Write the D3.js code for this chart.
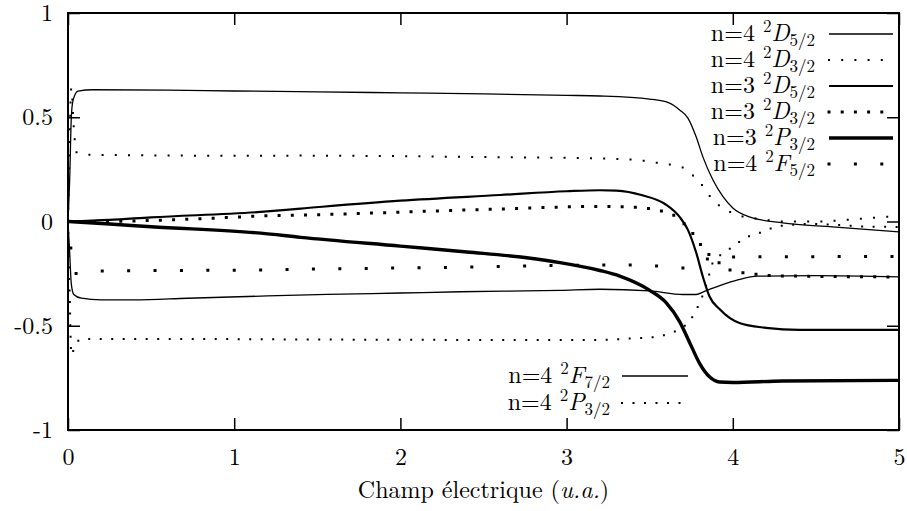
<!DOCTYPE html>
<html><head><meta charset="utf-8">
<script src="https://cdn.jsdelivr.net/npm/d3@7/dist/d3.min.js"></script>
<style>body{margin:0;background:#fff;}</style></head>
<body><svg id="c" width="907" height="511"></svg>
<script>
// ---- data ----
const xTicks = [0,1,2,3,4,5];
const yTicks = [-1,-0.5,0,0.5,1];
const yTickLabels = ["-1","-0.5","0","0.5","1"];
const xTitle = "Champ électrique";

const n4D52 = [[0,0],[0.01,0.2],[0.02,0.5],[0.03,0.58],[0.06,0.625],[0.15,0.632],[0.6,0.63],[1.0,0.626],[1.5,0.622],[2.0,0.617],[2.5,0.612],[3.0,0.605],[3.2,0.602],[3.5,0.587],[3.62,0.568],[3.68,0.535],[3.73,0.496],[3.78,0.405],[3.82,0.31],[3.88,0.2],[3.94,0.12],[4.0,0.065],[4.1,0.022],[4.3,-0.007],[4.6,-0.026],[5.0,-0.05]];
const n4D32 = [[0,0],[0.01,0.4],[0.02,0.64],[0.035,0.45],[0.05,0.333],[0.13,0.32],[1.16,0.315],[1.4,0.316],[2.4,0.31],[3.32,0.3],[3.56,0.28],[3.71,0.256],[3.77,0.213],[3.83,0.16],[3.87,0.113],[3.93,0.07],[4.0,0.04],[4.08,0.02],[4.16,0.012],[4.3,0.0],[4.49,0.0],[4.8,0.015],[5,0.027]];
const n3D52 = [[0,0],[0.25,0.008],[0.5,0.02],[1.16,0.046],[1.4,0.062],[2.0,0.1],[2.6,0.127],[3.0,0.145],[3.2,0.15],[3.3,0.148],[3.45,0.127],[3.6,0.08],[3.68,0.022],[3.73,-0.04],[3.78,-0.15],[3.82,-0.265],[3.86,-0.36],[3.92,-0.42],[4.04,-0.487],[4.2,-0.51],[4.4,-0.52],[5,-0.52]];
const n3D32 = [[0,0],[0.25,0.0],[0.41,0.003],[0.9,0.017],[1.14,0.026],[1.44,0.031],[2.0,0.045],[2.6,0.06],[3.2,0.072],[3.36,0.07],[3.51,0.06],[3.59,0.046],[3.67,0.017],[3.72,-0.022],[3.78,-0.079],[3.82,-0.127],[3.88,-0.175],[3.92,-0.2],[3.95,-0.22],[4.0,-0.237],[4.08,-0.247],[4.24,-0.26],[5,-0.266]];
const n3P32 = [[0,0],[0.25,-0.012],[0.5,-0.025],[1.16,-0.056],[1.4,-0.076],[2.0,-0.118],[2.4,-0.146],[2.76,-0.174],[2.96,-0.197],[3.2,-0.235],[3.32,-0.262],[3.5,-0.33],[3.6,-0.39],[3.68,-0.48],[3.74,-0.58],[3.8,-0.68],[3.86,-0.745],[3.92,-0.77],[4.0,-0.772],[4.3,-0.765],[5,-0.762]];
const n4F52 = [[0,0],[0.03,-0.2],[0.05,-0.25],[0.2,-0.237],[1.2,-0.232],[1.5,-0.228],[2.3,-0.22],[3.0,-0.21],[3.3,-0.208],[3.5,-0.212],[3.72,-0.223],[3.87,-0.175],[4.0,-0.17],[5,-0.168]];
const n4F72 = [[0,0],[0.01,-0.15],[0.02,-0.3],[0.035,-0.35],[0.08,-0.368],[0.2,-0.376],[0.4,-0.376],[0.72,-0.368],[1.2,-0.357],[1.56,-0.35],[2.0,-0.343],[2.36,-0.337],[2.96,-0.33],[3.2,-0.325],[3.5,-0.333],[3.7,-0.35],[3.78,-0.35],[3.83,-0.335],[3.93,-0.305],[4.03,-0.28],[4.15,-0.262],[4.5,-0.26],[5,-0.266]];
const n4P32 = [[0,0],[0.01,-0.35],[0.02,-0.64],[0.04,-0.6],[0.08,-0.563],[0.5,-0.563],[1.5,-0.566],[2.5,-0.568],[3.2,-0.568],[3.32,-0.564],[3.44,-0.559],[3.53,-0.554],[3.61,-0.54],[3.68,-0.516],[3.74,-0.477],[3.78,-0.424],[3.815,-0.362],[3.85,-0.28],[3.875,-0.204],[3.965,-0.141],[4.03,-0.103],[4.1,-0.07],[4.18,-0.05],[4.24,-0.03],[4.33,-0.017],[4.48,-0.012],[4.8,-0.024],[5,-0.026]];

const seriesNames = [
  {n:"4", L:"D", j:"5/2"},{n:"4", L:"D", j:"3/2"},{n:"3", L:"D", j:"5/2"},
  {n:"3", L:"D", j:"3/2"},{n:"3", L:"P", j:"3/2"},{n:"4", L:"F", j:"5/2"},
  {n:"4", L:"F", j:"7/2"},{n:"4", L:"P", j:"3/2"}];
const seriesData = [n4D52,n4D32,n3D52,n3D32,n3P32,n4F52,n4F72,n4P32];

// ---- styles ----
const styles = [
  {w:1.3, dash:null},
  {w:2, dash:"0 13.2"},
  {w:2.2, dash:null},
  {w:3, dash:"0 13.2"},
  {w:3.4, dash:null},
  {w:3, dash:"0 26.4"},
  {w:1.3, dash:null},
  {w:2, dash:"0 11.5"}
];

const FONT = '"Latin Modern Roman", "Liberation Serif", serif';
const svg = d3.select("#c");
const L=68, R=899, T=13, B=430;
const x = d3.scaleLinear().domain([0,5]).range([L,R]);
const y = d3.scaleLinear().domain([-1,1]).range([B,T]);

svg.append("defs").append("clipPath").attr("id","clip")
  .append("rect").attr("x",L).attr("y",T).attr("width",R-L).attr("height",B-T);

const line = d3.line().x(d=>x(d[0])).y(d=>y(d[1])).curve(d3.curveMonotoneX);

const g = svg.append("g").attr("clip-path","url(#clip)");
seriesData.forEach((d,i)=>{
  const s = styles[i];
  const p = g.append("path").attr("d",line(d)).attr("fill","none")
    .attr("stroke","#000").attr("stroke-width",s.w);
  if(s.dash){ p.attr("stroke-dasharray",s.dash).attr("stroke-linecap","square"); }
  else { p.attr("stroke-linejoin","round"); }
});

// axes
const fs = 24;
const axB = svg.append("g").attr("transform",`translate(0,${B})`)
  .call(d3.axisBottom(x).tickValues(xTicks).tickFormat(d3.format("d")).tickSize(-12).tickPadding(18));
const axT = svg.append("g").attr("transform",`translate(0,${T})`)
  .call(d3.axisTop(x).tickValues(xTicks).tickFormat("").tickSize(-12));
const axL = svg.append("g").attr("transform",`translate(${L},0)`)
  .call(d3.axisLeft(y).tickValues(yTicks).tickFormat((d,i)=>yTickLabels[i]).tickSize(-12).tickPadding(15));
const axR = svg.append("g").attr("transform",`translate(${R},0)`)
  .call(d3.axisRight(y).tickValues(yTicks).tickFormat("").tickSize(-12));
[axB,axT,axL,axR].forEach(a=>{
  a.select(".domain").remove();
  a.selectAll("line").attr("stroke","#000").attr("stroke-width",1.5);
  a.selectAll("text").style("font-size",fs+"px").style("font-family",FONT).attr("fill","#000");
});
axB.selectAll("text").attr("dy","0.71em");

svg.append("rect").attr("x",L).attr("y",T).attr("width",R-L).attr("height",B-T)
  .attr("fill","none").attr("stroke","#000").attr("stroke-width",2);

// x title
const xt = svg.append("text").attr("x",(L+R)/2).attr("y",498).attr("text-anchor","middle")
  .style("font-size",fs+"px").style("font-family",FONT);
xt.append("tspan").text(xTitle+" (");
xt.append("tspan").style("font-style","italic").text("u.a.");
xt.append("tspan").text(")");

// legends
function legendEntry(i, textRight, sx1, sx2, yy){
  const nm = seriesNames[i], s = styles[i];
  const t = svg.append("text").attr("x",textRight).attr("y",yy+7).attr("text-anchor","end")
    .style("font-size",fs+"px").style("font-family",FONT);
  t.append("tspan").text("n="+nm.n+" ");
  t.append("tspan").style("font-size","17px").attr("dy",-9).text("2");
  t.append("tspan").style("font-style","italic").attr("dy",9).text(nm.L);
  t.append("tspan").style("font-size","17px").attr("dy",5).text(nm.j);
  const p = svg.append("line").attr("x1",sx1).attr("x2",sx2).attr("y1",yy).attr("y2",yy)
    .attr("stroke","#000").attr("stroke-width",s.w);
  if(s.dash) p.attr("stroke-dasharray",s.dash).attr("stroke-linecap","square");
}
const topRows = [34,60,86,112,138,164];
[0,1,2,3,4,5].forEach((i,k)=>legendEntry(i,815,829,893,topRows[k]));
legendEntry(6,610,622,688,376);
legendEntry(7,610,622,688,403);
</script></body></html>
